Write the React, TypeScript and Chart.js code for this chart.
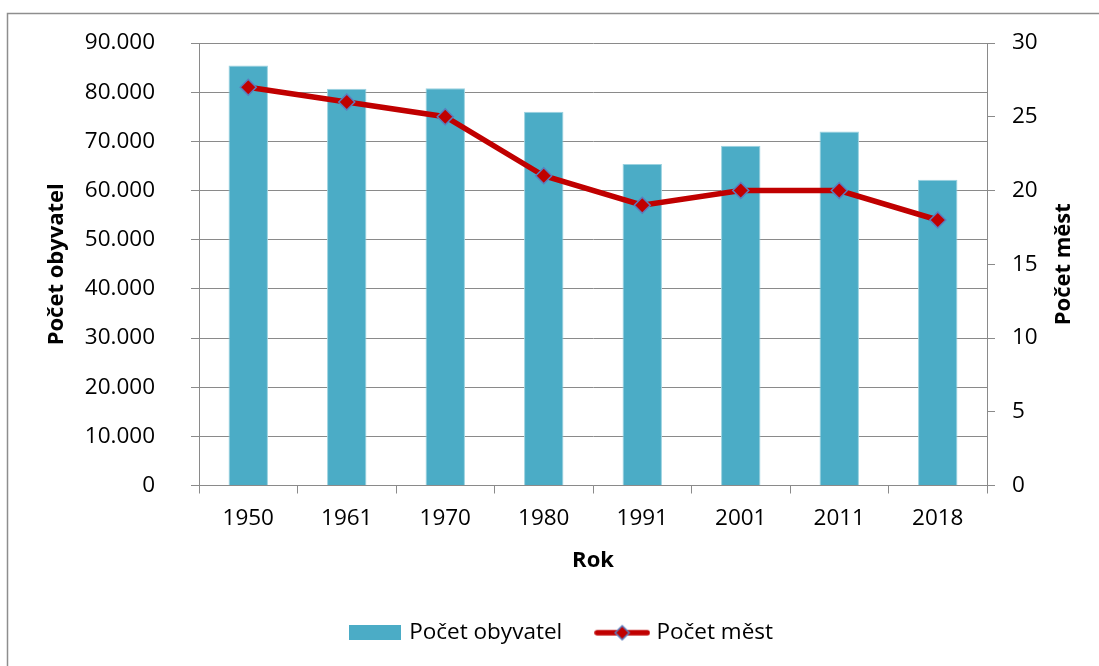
import React, { useEffect, useRef } from "react";
import { Chart, registerables } from "chart.js";

Chart.register(...registerables);

const categories = ["1950", "1961", "1970", "1980", "1991", "2001", "2011", "2018"];
const populationValues = [85400, 80700, 80800, 76000, 65400, 69100, 72000, 62200];
const cityCounts = [27, 26, 25, 21, 19, 20, 20, 18];

const seriesPopulation = "Počet obyvatel";
const seriesCities = "Počet měst";
const xTitle = "Rok";

const BAR_COLOR = "#4BACC6";
const LINE_COLOR = "#C00000";
const MARKER_BORDER = "#5B7DBE";
const GRID = "#8A8A8A";
const FONT = "'Open Sans'";

function formatThousands(v: number): string {
  return String(v).replace(/\B(?=(\d{3})+(?!\d))/g, ".");
}

function makeBarSwatch(): HTMLCanvasElement {
  const c = document.createElement("canvas");
  c.width = 52;
  c.height = 15;
  const ctx = c.getContext("2d")!;
  ctx.fillStyle = BAR_COLOR;
  ctx.fillRect(0, 0, 52, 15);
  return c;
}

function makeLineSwatch(): HTMLCanvasElement {
  const c = document.createElement("canvas");
  c.width = 56;
  c.height = 18;
  const ctx = c.getContext("2d")!;
  ctx.strokeStyle = LINE_COLOR;
  ctx.lineWidth = 5.5;
  ctx.lineCap = "round";
  ctx.beginPath();
  ctx.moveTo(3, 9);
  ctx.lineTo(53, 9);
  ctx.stroke();
  ctx.beginPath();
  ctx.moveTo(28 - 7, 9);
  ctx.lineTo(28, 2);
  ctx.lineTo(28 + 7, 9);
  ctx.lineTo(28, 16);
  ctx.closePath();
  ctx.fillStyle = LINE_COLOR;
  ctx.fill();
  ctx.strokeStyle = MARKER_BORDER;
  ctx.lineWidth = 1.5;
  ctx.stroke();
  return c;
}

export default function App() {
  const ref = useRef<HTMLCanvasElement | null>(null);

  useEffect(() => {
    if (!ref.current) return;
    const barSwatch = makeBarSwatch();
    const lineSwatch = makeLineSwatch();

    const frame = {
      id: "frameAndRightTitle",
      afterDraw(chart: any) {
        const ctx = chart.ctx;
        ctx.save();
        ctx.strokeStyle = "#8E8E8E";
        ctx.lineWidth = 1.5;
        ctx.beginPath();
        ctx.moveTo(7.5, 666);
        ctx.lineTo(7.5, 13.5);
        ctx.lineTo(1099, 13.5);
        ctx.stroke();
        const area = chart.chartArea;
        ctx.translate(1064, (area.top + area.bottom) / 2);
        ctx.rotate(-Math.PI / 2);
        ctx.font = `bold 22px ${FONT}`;
        ctx.fillStyle = "#000";
        ctx.textAlign = "center";
        ctx.textBaseline = "middle";
        ctx.fillText(seriesCities, 0, 0);
        ctx.restore();
      },
    };

    const tickFont = { family: FONT, size: 22.5 };
    const titleFont = { family: FONT, size: 22, weight: "bold" as const };

    const chart = new Chart(ref.current, {
      type: "bar",
      data: {
        labels: categories,
        datasets: [
          {
            type: "line",
            label: seriesCities,
            data: cityCounts,
            yAxisID: "y1",
            borderColor: LINE_COLOR,
            borderWidth: 5.5,
            backgroundColor: LINE_COLOR,
            pointStyle: "rectRot",
            pointRadius: 8,
            pointBackgroundColor: LINE_COLOR,
            pointBorderColor: MARKER_BORDER,
            pointBorderWidth: 1.5,
            tension: 0,
            order: 0,
          } as any,
          {
            type: "bar",
            label: seriesPopulation,
            data: populationValues,
            yAxisID: "y",
            backgroundColor: BAR_COLOR,
            borderColor: "#9AD2E0",
            borderWidth: 1,
            barPercentage: 0.4,
            categoryPercentage: 1,
            order: 1,
          } as any,
        ],
      },
      options: {
        animation: false,
        responsive: true,
        maintainAspectRatio: false,
        layout: { padding: { top: 43, left: 36, right: 10, bottom: 12 } },
        plugins: {
          tooltip: { enabled: false },
          legend: {
            position: "bottom",
            align: "center",
            labels: {
              usePointStyle: true,
              pointStyleWidth: 46,
              padding: 37,
              color: "#000",
              font: tickFont,
              generateLabels: () => [
                {
                  text: seriesPopulation,
                  pointStyle: barSwatch as any,
                  fillStyle: BAR_COLOR,
                  strokeStyle: "transparent",
                  lineWidth: 0,
                  hidden: false,
                  datasetIndex: 1,
                  fontColor: "#000",
                } as any,
                {
                  text: seriesCities,
                  pointStyle: lineSwatch as any,
                  fillStyle: LINE_COLOR,
                  strokeStyle: "transparent",
                  lineWidth: 0,
                  hidden: false,
                  datasetIndex: 0,
                  fontColor: "#000",
                } as any,
              ],
            },
          },
        },
        scales: {
          x: {
            offset: true,
            grid: {
              display: true,
              drawOnChartArea: false,
              drawTicks: true,
              tickLength: 8,
              color: GRID,
              offset: true,
            },
            border: { display: true, color: GRID, width: 1 },
            ticks: { font: tickFont, color: "#000", padding: 12, maxRotation: 0 },
            title: {
              display: true,
              text: xTitle,
              font: titleFont,
              color: "#000",
              padding: { top: 0, bottom: 11 },
            },
            afterFit: (s: any) => {
              s.height = 99;
            },
          },
          y: {
            position: "left",
            min: 0,
            max: 90000,
            grid: { color: GRID, tickLength: 8, drawTicks: true },
            border: { display: true, color: GRID, width: 1 },
            ticks: {
              stepSize: 10000,
              font: tickFont,
              color: "#000",
              padding: 36,
              callback: (v: any) => formatThousands(Number(v)),
            },
            title: {
              display: true,
              text: seriesPopulation,
              font: titleFont,
              color: "#000",
              padding: { top: 8, bottom: 0 },
            },
            afterFit: (s: any) => {
              s.width = 163;
              s.paddingTop = 14;
              s.paddingBottom = 14;
            },
          },
          y1: {
            position: "right",
            min: 0,
            max: 30,
            grid: { drawOnChartArea: false, tickLength: 8, drawTicks: true, color: GRID },
            border: { display: true, color: GRID, width: 1 },
            ticks: { stepSize: 5, font: tickFont, color: "#000", padding: 17 },
            afterFit: (s: any) => {
              s.width = 102;
              s.paddingTop = 14;
              s.paddingBottom = 14;
            },
          },
        },
      },
      plugins: [frame],
    });

    return () => chart.destroy();
  }, []);

  return (
    <div style={{ position: "absolute", left: 0, top: 0, width: 1099, height: 666 }}>
      <canvas ref={ref} />
    </div>
  );
}
